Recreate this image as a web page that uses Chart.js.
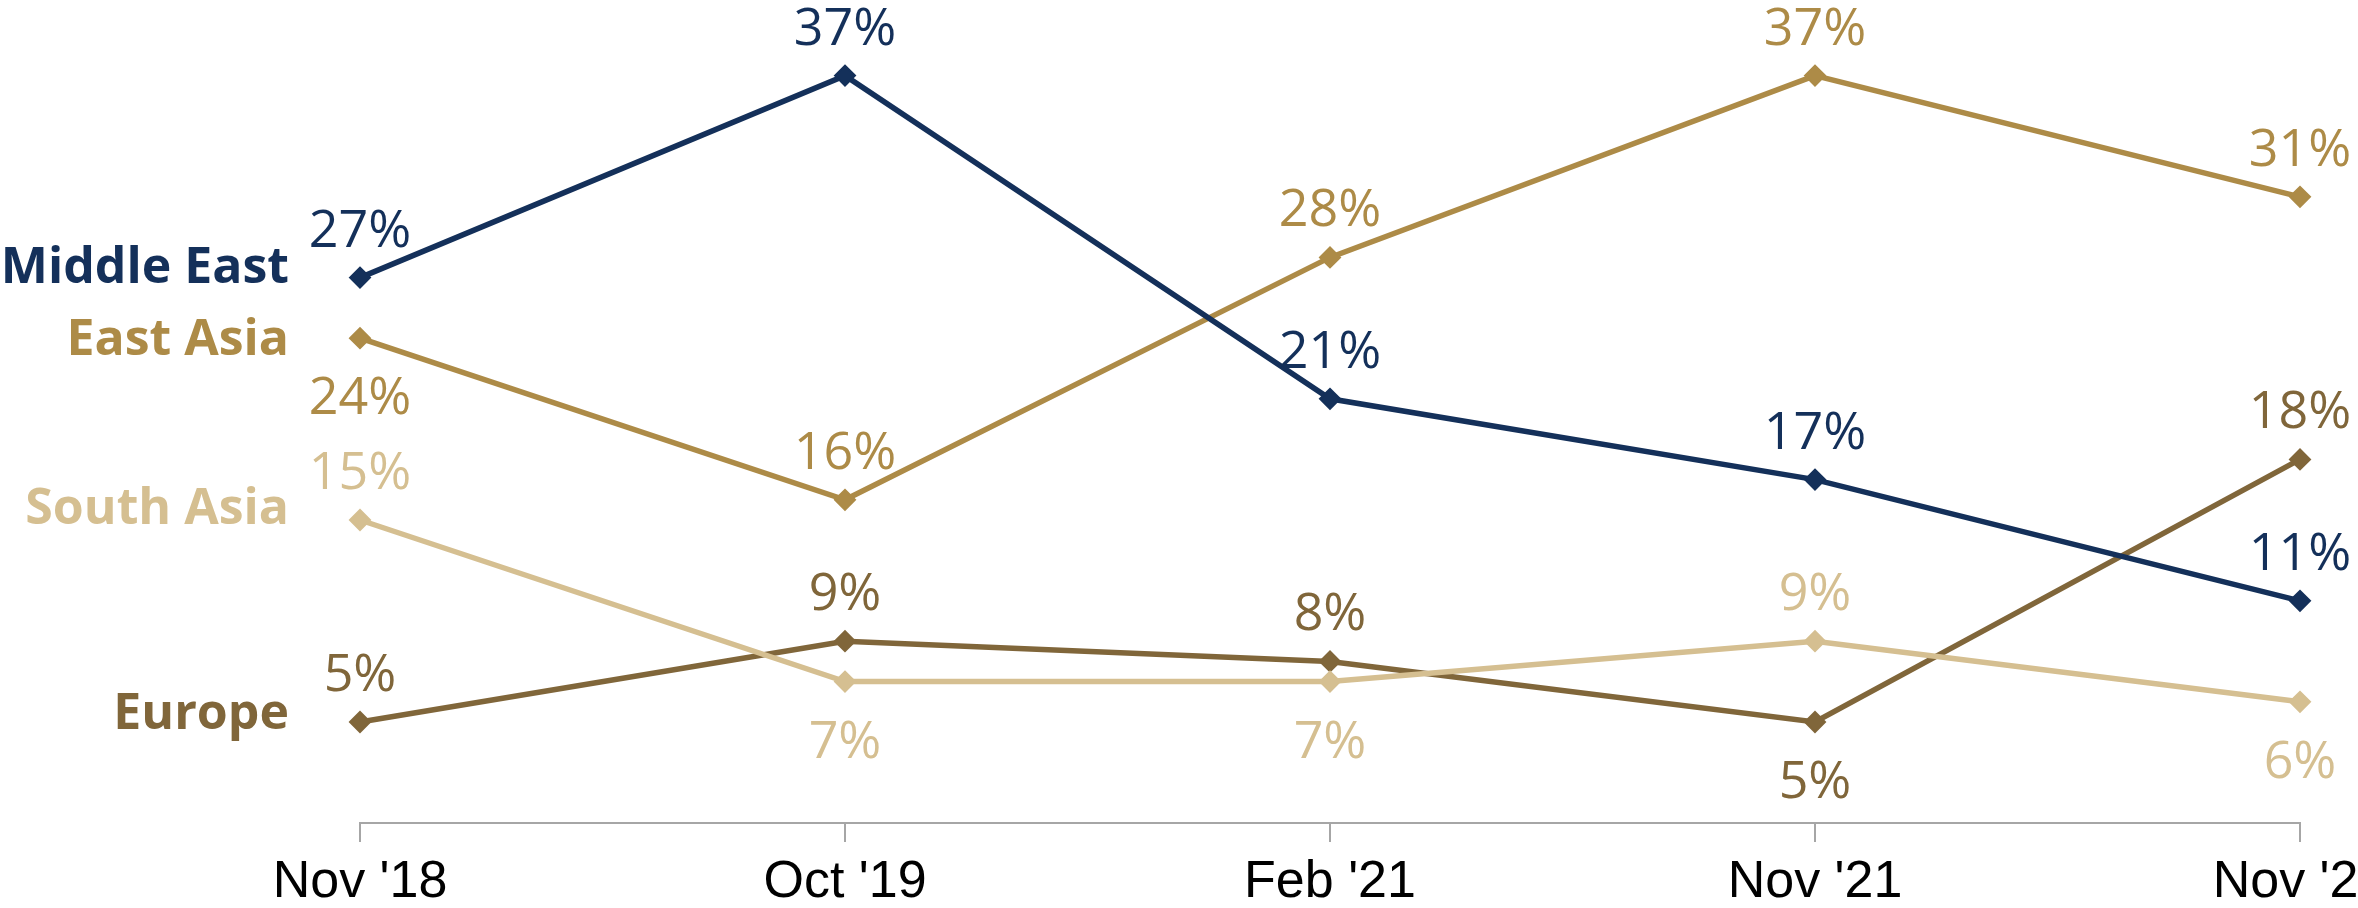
<!DOCTYPE html>
<html>
<head>
<meta charset="utf-8">
<script src="https://cdn.jsdelivr.net/npm/chart.js@4.4.1/dist/chart.umd.min.js"></script>
<style>
  html, body { margin: 0; padding: 0; background: #ffffff; overflow: hidden; }
  #wrap { width: 2358px; height: 908px; position: relative; }
</style>
</head>
<body>
<div id="wrap"><canvas id="c" width="2358" height="908"></canvas></div>
<script>
// ---- Data ----
const categories = ["Nov '18", "Oct '19", "Feb '21", "Nov '21", "Nov '22"];
const seriesNames = ["Middle East", "East Asia", "South Asia", "Europe"];
const middleEast = [27, 37, 21, 17, 11];
const eastAsia   = [24, 16, 28, 37, 31];
const southAsia  = [15, 7, 7, 9, 6];
const europe     = [5, 9, 8, 5, 18];

// ---- Styling (not data) ----
const colors = ["#14305A", "#AD8B47", "#D5BF91", "#80663A"];
// label placement per series/point: 1 = above, -1 = below
const labelSide = [
  [1, 1, 1, 1, 1],
  [-1, 1, 1, 1, 1],
  [1, -1, -1, 1, -1],
  [1, 1, 1, -1, 1]
];
// vertical nudge of the series names relative to their first point
const nameNudge = [-9, 3, -10, -7];
const seriesValues = [middleEast, eastAsia, southAsia, europe];

const datasets = seriesValues.map((vals, i) => ({
  label: seriesNames[i],
  data: vals,
  borderColor: colors[i],
  backgroundColor: colors[i],
  borderWidth: 5.5,
  pointStyle: 'rectRot',
  pointRadius: 10,
  pointHoverRadius: 10,
  pointBorderWidth: 2,
  tension: 0,
  fill: false
}));

const labelPlugin = {
  id: 'labels',
  afterDatasetsDraw(chart) {
    const ctx = chart.ctx;
    ctx.save();
    chart.data.datasets.forEach((ds, i) => {
      const meta = chart.getDatasetMeta(i);
      ctx.fillStyle = colors[i];
      ctx.font = '52px "Open Sans"';
      ctx.textAlign = 'center';
      ctx.textBaseline = 'alphabetic';
      meta.data.forEach((pt, j) => {
        const off = labelSide[i][j] > 0 ? -31 : 76;
        ctx.fillText(ds.data[j] + '%', pt.x, pt.y + off);
      });
      // series name on the left
      const first = meta.data[0];
      ctx.font = 'bold 50px "Open Sans"';
      ctx.textAlign = 'right';
      ctx.textBaseline = 'middle';
      ctx.fillText(ds.label, 289, first.y + nameNudge[i]);
    });
    ctx.restore();
  }
};

new Chart(document.getElementById('c'), {
  type: 'line',
  data: { labels: categories, datasets },
  plugins: [labelPlugin],
  options: {
    responsive: false,
    animation: false,
    devicePixelRatio: 1,
    layout: { autoPadding: false, padding: { left: 360, right: 58, top: 15, bottom: 0 } },
    plugins: { legend: { display: false }, tooltip: { enabled: false } },
    scales: {
      x: {
        offset: false,
        border: { display: true, color: '#A6A6A6', width: 2 },
        grid: { display: true, drawOnChartArea: false, drawTicks: true, tickLength: 19, color: '#A6A6A6', lineWidth: 2 },
        ticks: { color: '#000000', padding: 9, maxRotation: 0, autoSkip: false,
                 font: { family: '"Liberation Sans", Arial, sans-serif', size: 52, lineHeight: 1.2 } },
        afterFit(scale) {
          scale.paddingLeft = 0;
          scale.paddingRight = 0;
          scale.height = 85;
        }
      },
      y: {
        display: false,
        min: 0,
        max: 40
      }
    }
  }
});
</script>
</body>
</html>
